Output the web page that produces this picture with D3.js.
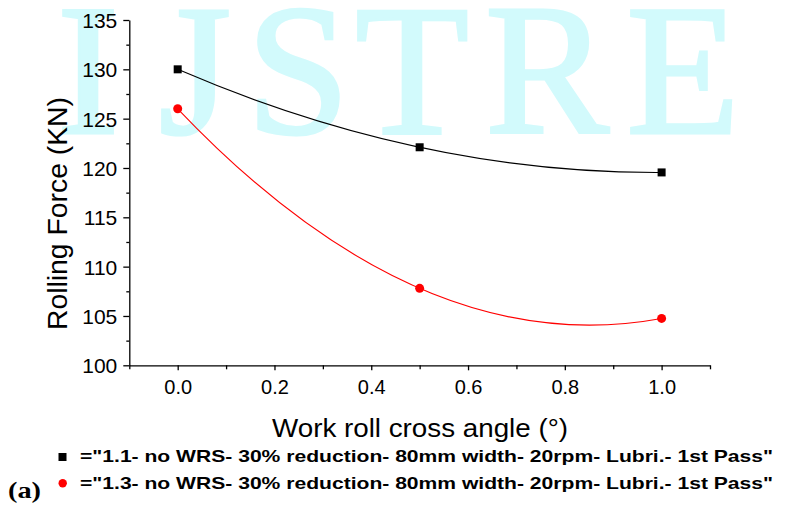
<!DOCTYPE html>
<html>
<head>
<meta charset="utf-8">
<script src="https://cdn.jsdelivr.net/npm/d3@7/dist/d3.min.js"></script>
<style>
  html, body { margin: 0; padding: 0; background: #fff; }
  svg { display: block; }
</style>
</head>
<body>
<svg id="chart" width="788" height="505"></svg>
<script>
// Work roll cross angle (degrees)
const angles = [0.0, 0.5, 1.0];
// Rolling force (KN) for each test condition
const force11 = [130.0, 122.1, 119.55];
const force13 = [126.0, 107.8, 104.75];

const seriesNames = [
  '="1.1- no WRS- 30% reduction- 80mm width- 20rpm- Lubri.- 1st Pass"',
  '="1.3- no WRS- 30% reduction- 80mm width- 20rpm- Lubri.- 1st Pass"'
];

const xMajorTicks = [0.0, 0.2, 0.4, 0.6, 0.8, 1.0];
const xMinorTicks = [-0.1, 0.1, 0.3, 0.5, 0.7, 0.9, 1.1];
const yMajorTicks = [100, 105, 110, 115, 120, 125, 130, 135];
const yMinorTicks = [102.5, 107.5, 112.5, 117.5, 122.5, 127.5, 132.5];

const watermarkLetters = ["I", "J", "S", "T", "R", "E"];

const svg = d3.select("#chart");

const x = d3.scaleLinear().domain([-0.1, 1.1]).range([129.3, 710]);
const y = d3.scaleLinear().domain([100, 135]).range([365.3, 20]);

// faint journal watermark behind the plot
const wmCenters = [88, 195, 298, 412, 547, 683];
svg.append("g")
  .selectAll("text")
  .data(watermarkLetters)
  .join("text")
  .attr("x", (d, i) => wmCenters[i])
  .attr("y", 133)
  .attr("text-anchor", "middle")
  .attr("font-family", "Liberation Serif, serif")
  .attr("font-size", 186)
  .attr("fill", "#d2fafc")
  .attr("stroke", "#d2fafc")
  .attr("stroke-width", 3)
  .text(d => d);

// axes
const axisFont = "Liberation Sans, Arial, sans-serif";

const gx = svg.append("g").attr("transform", `translate(0,${y(100)})`);
gx.call(d3.axisBottom(x).tickValues(xMajorTicks).tickSize(5).tickSizeOuter(0).tickPadding(10)
  .tickFormat(d3.format(".1f")));
gx.append("g").call(d3.axisBottom(x).tickValues(xMinorTicks).tickSize(4).tickFormat(""))
  .select(".domain").remove();

const gy = svg.append("g").attr("transform", `translate(${x(-0.1)},0)`);
gy.call(d3.axisLeft(y).tickValues(yMajorTicks).tickSize(6).tickSizeOuter(0).tickPadding(6)
  .tickFormat(d3.format("d")));
gy.append("g").call(d3.axisLeft(y).tickValues(yMinorTicks).tickSize(3).tickFormat(""))
  .select(".domain").remove();

svg.selectAll(".domain, .tick line").attr("stroke", "#000").attr("stroke-width", 1.3);
gx.selectAll(".tick text").attr("font-family", axisFont).attr("font-size", 20).attr("fill", "#000");
gy.selectAll(".tick text").attr("font-family", axisFont).attr("font-size", 21).attr("fill", "#000")
  .attr("dy", "0.36em");

// axis titles
svg.append("text")
  .attr("x", 272).attr("y", 437)
  .attr("font-family", axisFont).attr("font-size", 26)
  .attr("textLength", 296).attr("lengthAdjust", "spacingAndGlyphs")
  .text("Work roll cross angle (°)");

svg.append("text")
  .attr("transform", "translate(67,213.5) rotate(-90)")
  .attr("text-anchor", "middle")
  .attr("font-family", axisFont).attr("font-size", 28)
  .attr("textLength", 233).attr("lengthAdjust", "spacingAndGlyphs")
  .text("Rolling Force (KN)");

// quadratic through three points, drawn as one Bezier segment
function quadPath(xs, ys) {
  const [x0, x1, x2] = xs, [y0, y1, y2] = ys;
  // derivative of the Lagrange quadratic at x0
  const d0 = y0 * ((2 * x0 - x1 - x2) / ((x0 - x1) * (x0 - x2)))
           + y1 * ((x0 - x2) / ((x1 - x0) * (x1 - x2)))
           + y2 * ((x0 - x1) / ((x2 - x0) * (x2 - x1)));
  const cx = (x0 + x2) / 2;
  const cy = y0 + d0 * (x2 - x0) / 2;
  const p = d3.path();
  p.moveTo(x(x0), y(y0));
  p.quadraticCurveTo(x(cx), y(cy), x(x2), y(y2));
  return p.toString();
}

svg.append("path").attr("d", quadPath(angles, force11))
  .attr("fill", "none").attr("stroke", "#000").attr("stroke-width", 1.1);
svg.append("path").attr("d", quadPath(angles, force13))
  .attr("fill", "none").attr("stroke", "#ff0000").attr("stroke-width", 1.1);

// markers
svg.append("g").selectAll("rect")
  .data(angles.map((a, i) => [a, force11[i]]))
  .join("rect")
  .attr("x", d => x(d[0]) - 4).attr("y", d => y(d[1]) - 4)
  .attr("width", 8).attr("height", 8).attr("fill", "#000");

svg.append("g").selectAll("circle")
  .data(angles.map((a, i) => [a, force13[i]]))
  .join("circle")
  .attr("cx", d => x(d[0])).attr("cy", d => y(d[1]))
  .attr("r", 4.5).attr("fill", "#ff0000");

// legend
svg.append("rect").attr("x", 58.5).attr("y", 453).attr("width", 8).attr("height", 8).attr("fill", "#000");
svg.append("circle").attr("cx", 62.7).attr("cy", 483.3).attr("r", 4.2).attr("fill", "#ff0000");

svg.append("g").selectAll("text")
  .data(seriesNames)
  .join("text")
  .attr("x", 80).attr("y", (d, i) => 462 + i * 27)
  .attr("font-family", axisFont).attr("font-weight", "bold").attr("font-size", 17)
  .attr("textLength", 693).attr("lengthAdjust", "spacingAndGlyphs")
  .text(d => d);

// panel label
svg.append("text")
  .attr("x", 8).attr("y", 498)
  .attr("font-family", "Liberation Serif, Times New Roman, serif")
  .attr("font-weight", "bold").attr("font-size", 24)
  .attr("textLength", 33).attr("lengthAdjust", "spacingAndGlyphs")
  .text("(a)");
</script>
</body>
</html>
